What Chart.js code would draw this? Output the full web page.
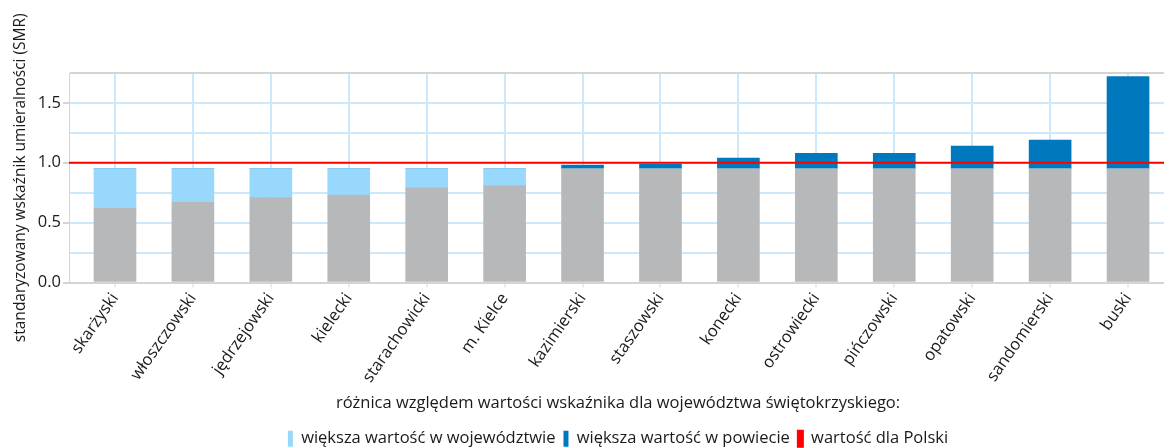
<!DOCTYPE html>
<html lang="pl">
<head>
    <meta charset="UTF-8">
    <title>SMR - powiaty</title>
    <script src="https://cdn.jsdelivr.net/npm/chart.js"></script>
    <style>
        html, body { margin: 0; padding: 0; background: #fff; overflow: hidden; }
        #wrap { width: 1167px; height: 448px; }
    </style>
</head>
<body>
    <div id="wrap"><canvas id="chart"></canvas></div>

    <script>
        // powiaty, wartosci SMR
        var powiaty = ['skarżyski', 'włoszczowski', 'jędrzejowski', 'kielecki', 'starachowicki', 'm. Kielce',
            'kazimierski', 'staszowski', 'konecki', 'ostrowiecki', 'pińczowski', 'opatowski', 'sandomierski', 'buski'];
        var smrPowiat = [0.62, 0.67, 0.71, 0.73, 0.79, 0.81, 0.98, 0.99, 1.04, 1.08, 1.08, 1.14, 1.19, 1.72];
        var smrWojewodztwo = 0.95;
        var smrPolska = 1.0;
        var yTicks = [0, 0.5, 1.0, 1.5];

        var FONT = 'Open Sans';
        var GRID = '#cde8fb';
        var AXIS = '#d4d4d4';
        var TXT = '#1a1a1a';

        // segmenty slupkow
        var base = [], wiekszaWoj = [], wiekszaPow = [];
        smrPowiat.forEach(function(v, i) {
            base.push({ x: i, y: Math.min(v, smrWojewodztwo) });
            wiekszaWoj.push({ x: i, y: Math.max(0, smrWojewodztwo - v) });
            wiekszaPow.push({ x: i, y: Math.max(0, v - smrWojewodztwo) });
        });

        var xMin = -0.59, xMax = 13.5;

        new Chart(document.getElementById('chart'), {
            data: {
                datasets: [{
                    type: 'bar',
                    label: 'powiat',
                    data: base,
                    backgroundColor: '#b7b8b9',
                    borderWidth: 0,
                    barThickness: 42,
                    order: 1
                }, {
                    type: 'bar',
                    label: 'większa wartość w województwie',
                    data: wiekszaWoj,
                    backgroundColor: '#99d8fd',
                    borderWidth: 0,
                    barThickness: 42,
                    order: 1
                }, {
                    type: 'bar',
                    label: 'większa wartość w powiecie',
                    data: wiekszaPow,
                    backgroundColor: '#0078bd',
                    borderWidth: 0,
                    barThickness: 42,
                    order: 1
                }, {
                    type: 'line',
                    label: 'wartość dla Polski',
                    data: [{ x: xMin, y: smrPolska }, { x: xMax, y: smrPolska }],
                    borderColor: '#ff0000',
                    backgroundColor: '#ff0000',
                    borderWidth: 2,
                    pointRadius: 0,
                    stack: 'polska',
                    order: 0
                }]
            },
            options: {
                responsive: true,
                maintainAspectRatio: false,
                animation: false,
                layout: { padding: { top: 73, left: 11, right: 0, bottom: -9 } },
                plugins: {
                    tooltip: { enabled: false },
                    legend: {
                        position: 'bottom',
                        fullSize: false,
                        labels: {
                            boxWidth: 5,
                            boxHeight: 16,
                            padding: 8,
                            color: TXT,
                            font: { family: FONT, size: 16.5 },
                            filter: function(item) { return item.datasetIndex !== 0; },
                            sort: function(a, b) { return a.datasetIndex - b.datasetIndex; }
                        }
                    }
                },
                scales: {
                    x: {
                        type: 'linear',
                        min: xMin,
                        max: xMax,
                        offset: false,
                        stacked: true,
                        afterBuildTicks: function(scale) {
                            scale.ticks = powiaty.map(function(_, i) { return { value: i }; });
                        },
                        afterFit: function(scale) { scale.height = 140; },
                        ticks: {
                            autoSkip: false,
                            maxRotation: 55,
                            minRotation: 55,
                            padding: 2,
                            color: TXT,
                            font: { family: FONT, size: 16.5 },
                            callback: function(v) { return powiaty[v]; }
                        },
                        grid: { offset: false, color: GRID, lineWidth: 2, tickColor: AXIS, tickLength: 5, tickWidth: 1 },
                        border: { display: true, color: AXIS, width: 2 },
                        title: {
                            display: true,
                            text: 'różnica względem wartości wskaźnika dla województwa świętokrzyskiego:',
                            color: TXT,
                            font: { family: FONT, size: 16.5 },
                            padding: { top: 0, bottom: 9 }
                        }
                    },
                    y: {
                        stacked: true,
                        min: 0,
                        max: 1.75,
                        afterFit: function(scale) { scale.width = 58; },
                        ticks: {
                            stepSize: 0.25,
                            padding: 2,
                            color: TXT,
                            font: { family: FONT, size: 16.5 },
                            callback: function(v) {
                                return yTicks.indexOf(v) >= 0 ? v.toFixed(1) : '';
                            }
                        },
                        grid: {
                            lineWidth: 2,
                            tickLength: 6,
                            color: function(ctx) {
                                return ctx.tick && ctx.tick.value === 1.75 ? AXIS : GRID;
                            },
                            tickColor: function(ctx) {
                                return ctx.tick && yTicks.indexOf(ctx.tick.value) >= 0 ? AXIS : 'rgba(0,0,0,0)';
                            }
                        },
                        border: { display: true, color: AXIS, width: 1 },
                        title: {
                            display: true,
                            text: 'standaryzowany wskaźnik umieralności (SMR)',
                            color: TXT,
                            font: { family: FONT, size: 15.5 },
                            padding: { top: 0, bottom: 0 }
                        }
                    }
                }
            }
        });
    </script>
</body>
</html>
